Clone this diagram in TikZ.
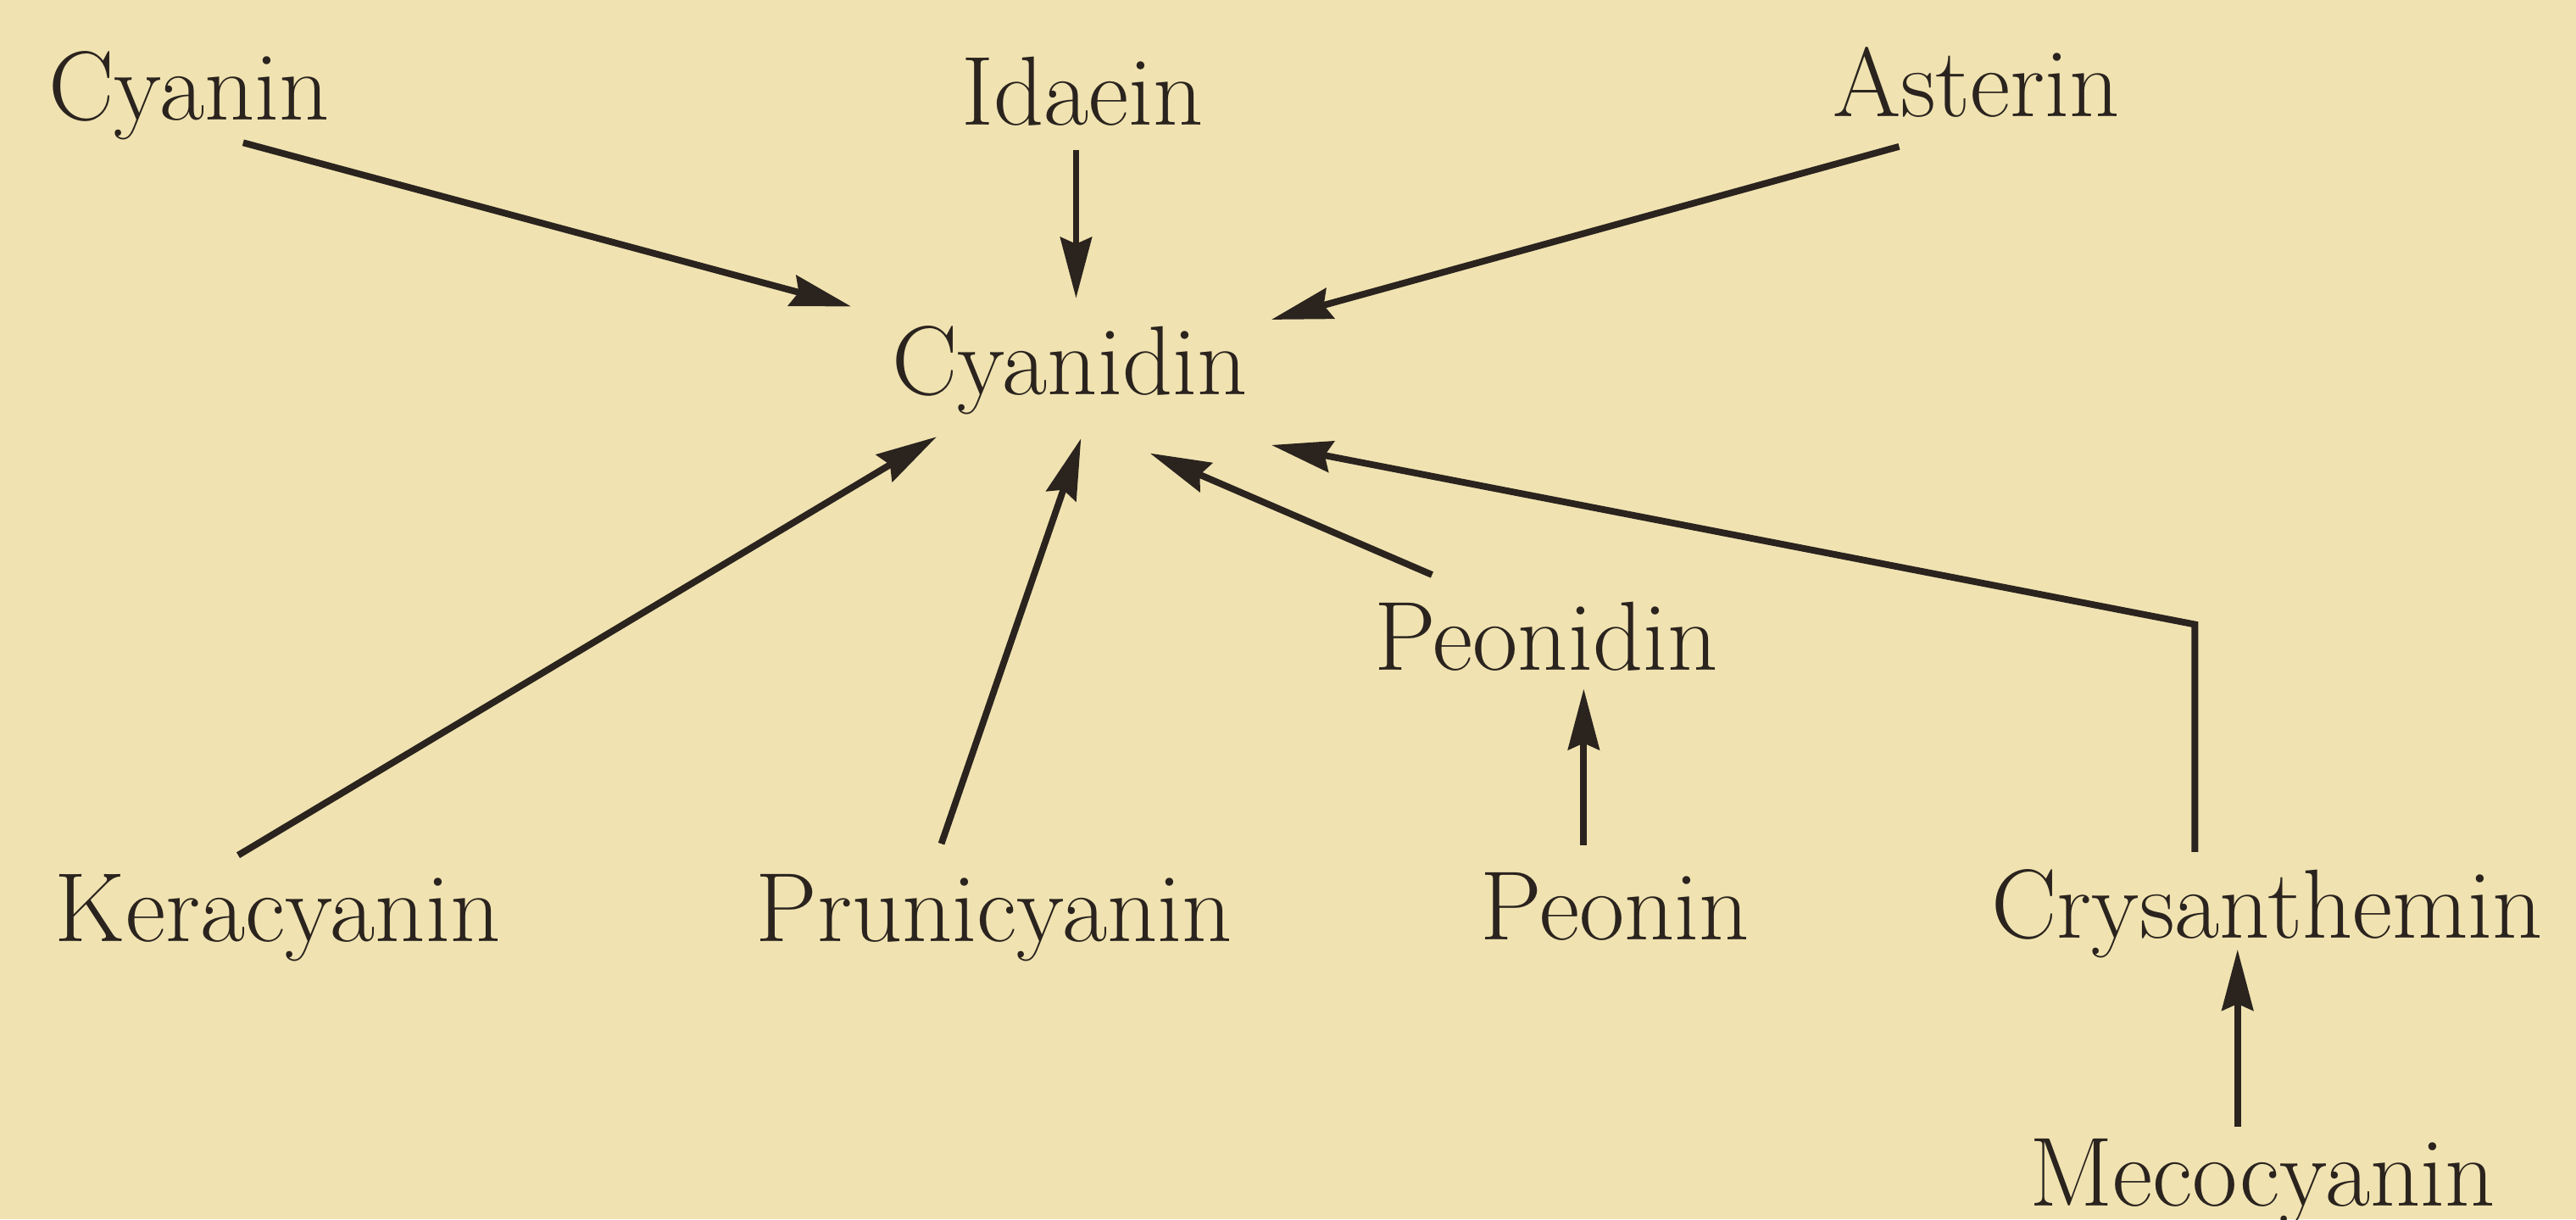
\documentclass[tikz,border=0pt]{standalone}
\usepackage{tikz}
\usetikzlibrary{arrows.meta,calc}
\definecolor{PaperTan}{HTML}{F0E3B1}
\definecolor{PrintInk}{HTML}{2A231E}
\tikzset{
  chemlabel/.style={font=\fontsize{17}{20}\selectfont, text=PrintInk, inner sep=0pt, anchor=base},
  chemarrow/.style={-{Stealth[length=3.7mm, width=1.9mm, inset=0.4mm]}, line width=1.15pt, draw=PrintInk},
  chemline/.style={line width=1.15pt, draw=PrintInk}
}

\begin{document}
\begin{tikzpicture}[x=0.01cm, y=-0.01cm, every node/.style={chemlabel}]
\fill[PaperTan] (0,0) rectangle (1568,742);
\useasboundingbox (0,0) rectangle (1568,742);

\node (cyanin) at (115,73) {Cyanin};
\node (idaein) at (659,76) {Idaein};
\node (asterin) at (1203,71) {Asterin};
\node (cyanidin) at (651,240) {Cyanidin};
\node (peonidin) at (941,408) {Peonidin};
\node (keracyanin) at (169,573) {Keracyanin};
\node (prunicyanin) at (605,573) {Prunicyanin};
\node (peonin) at (983,572) {Peonin};
\node (crysanthemin) at (1380,571) {Crysanthemin};
\node (mecocyanin) at (1377,734) {Mecocyanin};
\coordinate (crysbend) at (1336,380);

\draw[chemarrow] ($(cyanin.south)+(33,1)$) -- ($(cyanidin.north west)+(-24,-11)$);
\draw[chemarrow] ($(idaein.south)+(-4,14)$) -- ($(cyanidin.north)+(4,-16)$);
\draw[chemarrow] ($(asterin.south)+(-47,17)$) -- ($(cyanidin.north east)+(14,-3)$);
\draw[chemarrow] ($(keracyanin.north)+(-24,-11)$) -- ($(cyanidin.south west)+(28,13)$);
\draw[chemarrow] ($(prunicyanin.north)+(-32,-18)$) -- ($(cyanidin.south)+(7,14)$);
\draw[chemarrow] ($(peonidin.north west)+(36,-16)$) -- ($(cyanidin.south)+(49,23)$);
\draw[chemarrow] ($(peonin.north)+(-19,-16)$) -- ($(peonidin.south)+(23,10)$);
\draw[chemarrow] ($(crysanthemin.north)+(-44,-10)$) -- (crysbend) -- ($(cyanidin.south east)+(14,18)$);
\draw[chemarrow] ($(mecocyanin.north)+(-15,-7)$) -- ($(crysanthemin.south)+(-18,-6)$);
\end{tikzpicture}
\end{document}
